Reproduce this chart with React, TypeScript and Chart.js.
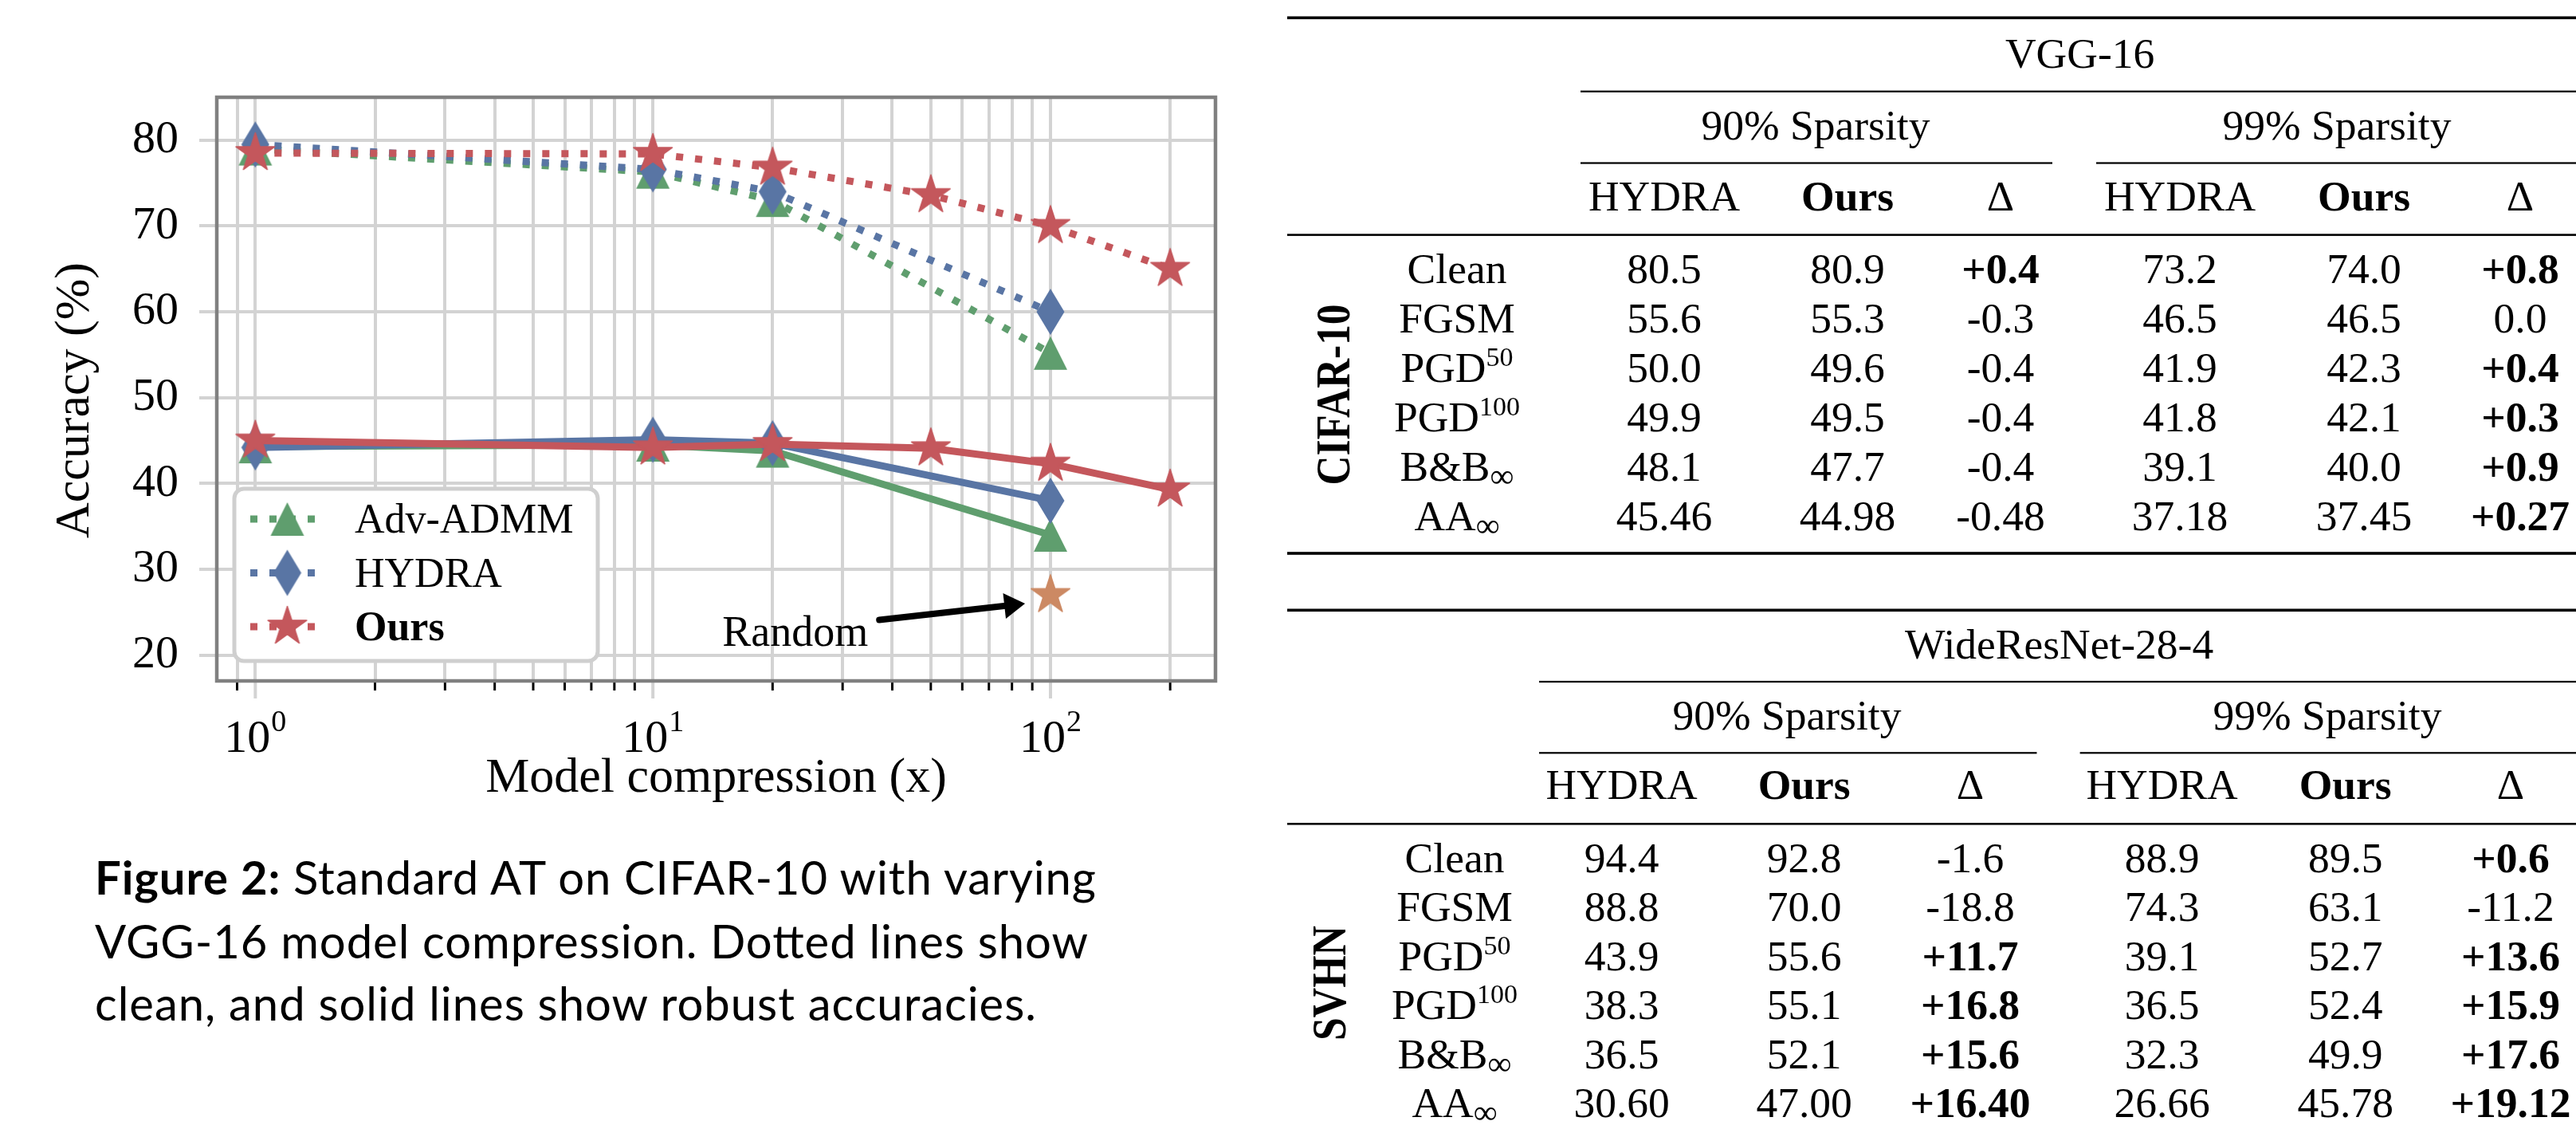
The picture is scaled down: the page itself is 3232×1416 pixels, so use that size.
import React, { useEffect, useRef } from 'react';
import { Chart, registerables } from 'chart.js';

Chart.register(...registerables);

// ---------------- chart data ----------------
const compressionShort = [1, 10, 20, 100];
const compressionLong = [1, 10, 20, 50, 100, 200];
const advAdmmClean = [79.0, 76.3, 73.0, 55.2];
const hydraClean = [79.5, 76.6, 74.0, 60.0];
const oursClean = [78.5, 78.4, 76.8, 73.6, 70.0, 65.0];
const advAdmmRobust = [44.3, 44.5, 43.8, 34.0];
const hydraRobust = [44.2, 45.1, 44.7, 38.0];
const oursRobust = [45.0, 44.2, 44.6, 44.1, 42.3, 39.3];
const randomCompression = [100];
const randomRobust = [27.0];
const legendLabels = ['Adv-ADMM', 'HYDRA', 'Ours'];
const yTickValues = [20, 30, 40, 50, 60, 70, 80];
const xMajorTickValues = [1, 10, 100];
const xMinorTickValues = [0.9, 2, 3, 4, 5, 6, 7, 8, 9, 20, 30, 40, 50, 60, 70, 80, 90, 200];
const xAxisTitle = 'Model compression (x)';
const yAxisTitle = 'Accuracy (%)';
const randomLabel = 'Random';

// ---------------- table data ----------------
const rowLabels = ['Clean', 'FGSM', 'PGD', 'PGD', 'B&B', 'AA'];
const rowSup = ['', '', '50', '100', '', ''];
const rowSub = ['', '', '', '', '∞', '∞'];
const headerLabels = ['HYDRA', 'Ours', 'Δ', 'HYDRA', 'Ours', 'Δ'];
const sparsityLabels = ['90% Sparsity', '99% Sparsity'];

const vgg90Hydra = ['80.5', '55.6', '50.0', '49.9', '48.1', '45.46'];
const vgg90Ours = ['80.9', '55.3', '49.6', '49.5', '47.7', '44.98'];
const vgg90Delta = ['+0.4', '-0.3', '-0.4', '-0.4', '-0.4', '-0.48'];
const vgg99Hydra = ['73.2', '46.5', '41.9', '41.8', '39.1', '37.18'];
const vgg99Ours = ['74.0', '46.5', '42.3', '42.1', '40.0', '37.45'];
const vgg99Delta = ['+0.8', '0.0', '+0.4', '+0.3', '+0.9', '+0.27'];

const wrn90Hydra = ['94.4', '88.8', '43.9', '38.3', '36.5', '30.60'];
const wrn90Ours = ['92.8', '70.0', '55.6', '55.1', '52.1', '47.00'];
const wrn90Delta = ['-1.6', '-18.8', '+11.7', '+16.8', '+15.6', '+16.40'];
const wrn99Hydra = ['88.9', '74.3', '39.1', '36.5', '32.3', '26.66'];
const wrn99Ours = ['89.5', '63.1', '52.7', '52.4', '49.9', '45.78'];
const wrn99Delta = ['+0.6', '-11.2', '+13.6', '+15.9', '+17.6', '+19.12'];

const captionBold = 'Figure 2:';
const captionLines = [
  ' Standard AT on CIFAR-10 with varying',
  'VGG-16 model compression. Dotted lines show',
  'clean, and solid lines show robust accuracies.',
];

// ---------------- styles ----------------
const SERIF = '"Liberation Serif", "Times New Roman", serif';
const SANS = 'Lato, "Open Sans", sans-serif';
const GREEN = '#5F9E6E';
const BLUE = '#5975A4';
const RED = '#C4575C';
const ORANGE = '#CC8963';
const GRID = '#d3d3d3';
const W = 1560;
const H = 1040;
const AREA = { left: 272, top: 122, right: 1525, bottom: 854 };

function makeMarker(kind: string, color: string): HTMLCanvasElement {
  const c = document.createElement('canvas');
  const ctx = c.getContext('2d') as CanvasRenderingContext2D;
  if (kind === 'triangle') {
    c.width = 44; c.height = 44;
    ctx.fillStyle = color;
    ctx.beginPath();
    ctx.moveTo(22, 1); ctx.lineTo(43, 43); ctx.lineTo(1, 43);
    ctx.closePath(); ctx.fill();
  } else if (kind === 'diamond') {
    c.width = 36; c.height = 60;
    ctx.fillStyle = color;
    ctx.beginPath();
    ctx.moveTo(18, 1); ctx.lineTo(35.5, 30); ctx.lineTo(18, 59); ctx.lineTo(0.5, 30);
    ctx.closePath(); ctx.fill();
  } else {
    c.width = 54; c.height = 54;
    const R = 25.5, r = R * 0.381966, cx = 27, cy = 27;
    ctx.fillStyle = color;
    ctx.strokeStyle = color;
    ctx.lineWidth = 1.5;
    ctx.lineJoin = 'round';
    ctx.beginPath();
    for (let k = 0; k < 10; k++) {
      const a = -Math.PI / 2 + (k * Math.PI) / 5;
      const rad = k % 2 === 0 ? R : r;
      const px = cx + rad * Math.cos(a);
      const py = cy + rad * Math.sin(a);
      if (k === 0) ctx.moveTo(px, py); else ctx.lineTo(px, py);
    }
    ctx.closePath(); ctx.fill(); ctx.stroke();
  }
  return c;
}

function pts(xs: number[], ys: number[]) {
  return xs.map((x, i) => ({ x, y: ys[i] }));
}

export default function App() {
  const ref = useRef<HTMLCanvasElement>(null);

  useEffect(() => {
    const tri = makeMarker('triangle', GREEN);
    const dia = makeMarker('diamond', BLUE);
    const star = makeMarker('star', RED);
    const starO = makeMarker('star', ORANGE);
    const dotted = [9, 15];

    const base = {
      fill: false,
      tension: 0,
      borderWidth: 9,
      pointRadius: 3,
      pointHoverRadius: 3,
      borderJoinStyle: 'round' as const,
      borderCapStyle: 'butt' as const,
    };

    const decorPlugin = {
      id: 'decor',
      afterDraw(chart: any) {
        const ctx: CanvasRenderingContext2D = chart.ctx;
        const { left, top, right, bottom } = chart.chartArea;
        const xs = chart.scales.x;
        const ys = chart.scales.y;
        ctx.save();

        // x ticks: major grey extensions, minor short black ticks
        xs.ticks.forEach((t: any) => {
          const px = xs.getPixelForValue(t.value);
          const major = xMajorTickValues.includes(t.value);
          ctx.beginPath();
          ctx.strokeStyle = major ? GRID : '#000';
          ctx.lineWidth = major ? 4 : 3;
          ctx.moveTo(px, bottom);
          ctx.lineTo(px, bottom + (major ? 22 : 12));
          ctx.stroke();
        });

        // x tick labels 10^n
        ctx.fillStyle = '#000';
        ctx.textBaseline = 'alphabetic';
        ctx.textAlign = 'left';
        xMajorTickValues.forEach((v) => {
          const px = xs.getPixelForValue(v);
          const exp = String(Math.round(Math.log10(v)));
          ctx.font = `58px ${SERIF}`;
          const wb = ctx.measureText('10').width;
          ctx.font = `38px ${SERIF}`;
          const we = ctx.measureText(exp).width;
          const sx = px - (wb + we + 1) / 2;
          ctx.font = `58px ${SERIF}`;
          ctx.fillText('10', sx, bottom + 88.7);
          ctx.font = `38px ${SERIF}`;
          ctx.fillText(exp, sx + wb + 1, bottom + 62.7);
        });

        // axis titles
        ctx.font = `62px ${SERIF}`;
        ctx.textAlign = 'center';
        ctx.fillText(xAxisTitle, (left + right) / 2, bottom + 139);
        ctx.save();
        ctx.translate(111, 502);
        ctx.rotate(-Math.PI / 2);
        ctx.fillText(yAxisTitle, 0, 0);
        ctx.restore();

        // frame
        ctx.strokeStyle = '#808080';
        ctx.lineWidth = 4.5;
        ctx.strokeRect(left, top, right - left, bottom - top);

        // annotation "Random" with arrow
        const tipX = xs.getPixelForValue(86.3), tipY = ys.getPixelForValue(26.0);
        const tailX = xs.getPixelForValue(37.1), tailY = ys.getPixelForValue(24.1);
        const dx = tipX - tailX, dy = tipY - tailY;
        const len = Math.hypot(dx, dy);
        const ux = dx / len, uy = dy / len;
        const headL = 26, headW = 16;
        const bx = tipX - ux * headL, by = tipY - uy * headL;
        ctx.strokeStyle = '#000';
        ctx.lineWidth = 8;
        ctx.lineCap = 'round';
        ctx.beginPath();
        ctx.moveTo(tailX, tailY);
        ctx.lineTo(bx + ux * 4, by + uy * 4);
        ctx.stroke();
        ctx.fillStyle = '#000';
        ctx.beginPath();
        ctx.moveTo(tipX, tipY);
        ctx.lineTo(bx - uy * headW, by + ux * headW);
        ctx.lineTo(bx + uy * headW, by - ux * headW);
        ctx.closePath();
        ctx.fill();
        ctx.font = `54px ${SERIF}`;
        ctx.textAlign = 'right';
        ctx.textBaseline = 'alphabetic';
        ctx.fillText(randomLabel, xs.getPixelForValue(34.8), ys.getPixelForValue(21.1));

        // legend
        const lx = 294, ly = 613, lw = 456, lh = 216, rr = 12;
        ctx.beginPath();
        ctx.moveTo(lx + rr, ly);
        ctx.arcTo(lx + lw, ly, lx + lw, ly + lh, rr);
        ctx.arcTo(lx + lw, ly + lh, lx, ly + lh, rr);
        ctx.arcTo(lx, ly + lh, lx, ly, rr);
        ctx.arcTo(lx, ly, lx + lw, ly, rr);
        ctx.closePath();
        ctx.fillStyle = '#fff';
        ctx.fill();
        ctx.strokeStyle = '#cfcfcf';
        ctx.lineWidth = 5;
        ctx.stroke();
        const legendItems = [
          { color: GREEN, marker: tri, bold: false },
          { color: BLUE, marker: dia, bold: false },
          { color: RED, marker: star, bold: true },
        ];
        legendItems.forEach((it, i) => {
          const cy = 651 + i * 67.5;
          const bl = 668 + i * 67.5;
          ctx.setLineDash(dotted);
          ctx.lineCap = 'butt';
          ctx.lineWidth = 9;
          ctx.strokeStyle = it.color;
          ctx.beginPath();
          ctx.moveTo(314, cy);
          ctx.lineTo(407, cy);
          ctx.stroke();
          ctx.setLineDash([]);
          ctx.drawImage(it.marker, 360.5 - it.marker.width / 2, cy - it.marker.height / 2);
          ctx.font = `${it.bold ? 'bold ' : ''}52px ${SERIF}`;
          ctx.fillStyle = '#000';
          ctx.textAlign = 'left';
          ctx.fillText(legendLabels[i], 445, bl);
        });

        ctx.restore();
      },
    };

    const chart = new Chart(ref.current as HTMLCanvasElement, {
      type: 'line',
      data: {
        datasets: [
          { ...base, label: 'Random', data: pts(randomCompression, randomRobust), showLine: false, borderColor: ORANGE, backgroundColor: ORANGE, pointStyle: starO as any, order: 0 },
          { ...base, label: 'Ours clean', data: pts(compressionLong, oursClean), borderColor: RED, backgroundColor: RED, borderDash: dotted, pointStyle: star as any, order: 1 },
          { ...base, label: 'Ours robust', data: pts(compressionLong, oursRobust), borderColor: RED, backgroundColor: RED, pointStyle: star as any, order: 1 },
          { ...base, label: 'HYDRA clean', data: pts(compressionShort, hydraClean), borderColor: BLUE, backgroundColor: BLUE, borderDash: dotted, pointStyle: dia as any, order: 2 },
          { ...base, label: 'HYDRA robust', data: pts(compressionShort, hydraRobust), borderColor: BLUE, backgroundColor: BLUE, pointStyle: dia as any, order: 2 },
          { ...base, label: 'Adv-ADMM clean', data: pts(compressionShort, advAdmmClean), borderColor: GREEN, backgroundColor: GREEN, borderDash: dotted, pointStyle: tri as any, order: 3 },
          { ...base, label: 'Adv-ADMM robust', data: pts(compressionShort, advAdmmRobust), borderColor: GREEN, backgroundColor: GREEN, pointStyle: tri as any, order: 3 },
        ],
      },
      options: {
        animation: false,
        responsive: false,
        devicePixelRatio: 1,
        events: [],
        layout: { padding: { left: 0, top: AREA.top, right: W - AREA.right, bottom: 0 } },
        plugins: { legend: { display: false }, tooltip: { enabled: false } },
        scales: {
          x: {
            type: 'logarithmic',
            min: 0.8,
            max: 260,
            bounds: 'data',
            afterBuildTicks: (s: any) => {
              s.ticks = [...xMinorTickValues, ...xMajorTickValues].sort((a, b) => a - b).map((v) => ({ value: v }));
            },
            afterFit: (s: any) => { s.height = H - AREA.bottom; },
            ticks: { display: false },
            grid: { color: GRID, lineWidth: 4, drawTicks: false },
            border: { display: false },
          },
          y: {
            type: 'linear',
            min: 17,
            max: 85,
            afterBuildTicks: (s: any) => { s.ticks = yTickValues.map((v) => ({ value: v })); },
            afterFit: (s: any) => { s.width = AREA.left; },
            ticks: { font: { family: SERIF, size: 58 }, color: '#000', padding: 26 },
            grid: { color: GRID, lineWidth: 4, tickLength: 22, tickColor: GRID, tickWidth: 4 },
            border: { display: false },
          },
        },
      } as any,
      plugins: [decorPlugin],
    });
    return () => chart.destroy();
  }, []);

  const tables = [
    {
      title: 'VGG-16', dataset: 'CIFAR-10',
      titleX: 2609.6, titleY: 85, topRule: 22.3, titleRule: 114.7, ruleStart: 1983,
      sparsityX: [2278, 2932], sparsityY: 175, subRuleY: 204.5, subRules: [[1983, 2575], [2630, 3232]],
      headerY: 264, midRule: 294.6, rowY0: 355, rowStep: 62, bottomRule: 694,
      labelX: 1828, colX: [2088, 2318, 2510, 2735, 2966, 3162],
      dsX: 1693, dsY: 495, dsLen: 227,
      columns: [vgg90Hydra, vgg90Ours, vgg90Delta, vgg99Hydra, vgg99Ours, vgg99Delta],
    },
    {
      title: 'WideResNet-28-4', dataset: 'SVHN',
      titleX: 2583.6, titleY: 825.6, topRule: 765.3, titleRule: 855, ruleStart: 1931,
      sparsityX: [2242, 2920], sparsityY: 914.6, subRuleY: 944.3, subRules: [[1931, 2555.5], [2609.6, 3232]],
      headerY: 1002, midRule: 1033.3, rowY0: 1093.6, rowStep: 61.5, bottomRule: 0,
      labelX: 1825, colX: [2034.6, 2263.6, 2472, 2712.6, 2942.7, 3150],
      dsX: 1688, dsY: 1233, dsLen: 144,
      columns: [wrn90Hydra, wrn90Ours, wrn90Delta, wrn99Hydra, wrn99Ours, wrn99Delta],
    },
  ];

  return (
    <div style={{ position: 'absolute', left: 0, top: 0, width: 3232, height: 1416, overflow: 'hidden', background: '#fff' }}>
      <canvas ref={ref} width={W} height={H} style={{ position: 'absolute', left: 0, top: 0, width: W, height: H }} />
      <svg width={3232} height={1416} style={{ position: 'absolute', left: 0, top: 0, pointerEvents: 'none' }}>
        <g fontFamily={SANS} fontSize={58} fill="#000">
          <text x={119} y={1121.7} textLength={1256} lengthAdjust="spacing">
            <tspan fontWeight="bold">{captionBold}</tspan>
            <tspan>{captionLines[0]}</tspan>
          </text>
          <text x={119} y={1201.7} textLength={1246} lengthAdjust="spacing">{captionLines[1]}</text>
          <text x={119} y={1280} textLength={1181} lengthAdjust="spacing">{captionLines[2]}</text>
        </g>
        {tables.map((s, ti) => (
          <g key={ti} fontFamily={SERIF} fontSize={53.5} fill="#000">
            <rect x={1615} y={s.topRule - 1.8} width={3232 - 1615} height={3.6} />
            <text x={s.titleX} y={s.titleY} textAnchor="middle">{s.title}</text>
            <rect x={s.ruleStart} y={s.titleRule - 1.1} width={3232 - s.ruleStart} height={2.2} />
            {sparsityLabels.map((t, i) => (
              <text key={'sp' + i} x={s.sparsityX[i]} y={s.sparsityY} textAnchor="middle">{t}</text>
            ))}
            {s.subRules.map(([a, b], i) => (
              <rect key={'sr' + i} x={a} y={s.subRuleY - 1.1} width={b - a} height={2.2} />
            ))}
            {headerLabels.map((h, i) => (
              <text key={'h' + i} x={s.colX[i]} y={s.headerY} textAnchor="middle" fontWeight={h === 'Ours' ? 'bold' : 'normal'}>{h}</text>
            ))}
            <rect x={1615} y={s.midRule - 1.3} width={3232 - 1615} height={2.6} />
            {rowLabels.map((lab, r) => (
              <text key={'rl' + r} x={s.labelX} y={s.rowY0 + r * s.rowStep} textAnchor="middle">
                {lab}
                {rowSup[r] ? <tspan dy={-20} fontSize={34}>{rowSup[r]}</tspan> : null}
                {rowSub[r] ? <tspan dy={8} fontSize={42}>{rowSub[r]}</tspan> : null}
              </text>
            ))}
            {s.columns.map((col, c) =>
              col.map((val, r) => (
                <text key={'v' + c + '-' + r} x={s.colX[c]} y={s.rowY0 + r * s.rowStep} textAnchor="middle"
                  fontWeight={c % 3 === 2 && val.startsWith('+') ? 'bold' : 'normal'}>{val}</text>
              ))
            )}
            {s.bottomRule ? <rect x={1615} y={s.bottomRule - 1.8} width={3232 - 1615} height={3.6} /> : null}
            <text transform={`translate(${s.dsX},${s.dsY}) rotate(-90)`} textAnchor="middle" fontWeight="bold" fontSize={62}
              textLength={s.dsLen} lengthAdjust="spacingAndGlyphs">{s.dataset}</text>
          </g>
        ))}
      </svg>
    </div>
  );
}
